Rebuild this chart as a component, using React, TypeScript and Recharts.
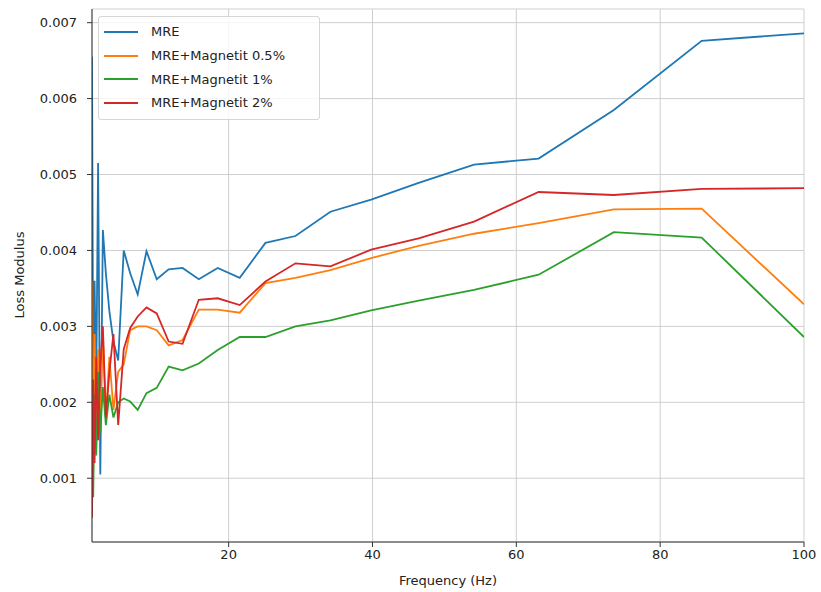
import React from 'react';
import { LineChart, Line, XAxis, YAxis, CartesianGrid, Label } from 'recharts';

// frequency sweep, 15 points per decade
const freq = [1.0, 1.166, 1.359, 1.585, 1.848, 2.154, 2.512, 2.929, 3.415, 3.981, 4.642, 5.412, 6.31, 7.356, 8.577, 10, 11.66, 13.59, 15.85, 18.48, 21.54, 25.12, 29.29, 34.15, 39.81, 46.42, 54.12, 63.1, 73.56, 85.77, 100];

const mre = [0.00655, 0.0022, 0.0036, 0.0021, 0.00515, 0.00105, 0.00427, 0.0037, 0.0032, 0.0028, 0.00255, 0.004, 0.0037, 0.00342, 0.00399, 0.00362, 0.00375, 0.00377, 0.00362, 0.00377, 0.00364, 0.0041, 0.00419, 0.00451, 0.00467, 0.00489, 0.00513, 0.00521, 0.00585, 0.00676, 0.00686];
const mre05 = [0.0036, 0.0011, 0.0029, 0.0014, 0.0027, 0.0017, 0.0029, 0.0018, 0.0026, 0.0019, 0.0024, 0.0025, 0.00295, 0.003, 0.003, 0.00295, 0.00275, 0.00282, 0.00322, 0.00322, 0.00318, 0.00357, 0.00364, 0.00374, 0.0039, 0.00406, 0.00422, 0.00436, 0.00454, 0.00455, 0.00329];
const mre1 = [0.0012, 0.00075, 0.0021, 0.0013, 0.0024, 0.0016, 0.0022, 0.0017, 0.0021, 0.0018, 0.002, 0.00205, 0.00201, 0.0019, 0.00212, 0.00219, 0.00247, 0.00242, 0.00251, 0.00269, 0.00286, 0.00286, 0.003, 0.00308, 0.00321, 0.00334, 0.00348, 0.00368, 0.00424, 0.00417, 0.00286];
const mre2 = [0.00048, 0.0023, 0.0012, 0.0026, 0.0015, 0.0025, 0.003, 0.0018, 0.0024, 0.0029, 0.0017, 0.0027, 0.00298, 0.00313, 0.00325, 0.00317, 0.0028, 0.00277, 0.00335, 0.00337, 0.00328, 0.00359, 0.00383, 0.00379, 0.00401, 0.00416, 0.00438, 0.00477, 0.00473, 0.00481, 0.00482];

const seriesNames = ['MRE', 'MRE+Magnetit 0.5%', 'MRE+Magnetit 1%', 'MRE+Magnetit 2%'];
const seriesColors = ['#1f77b4', '#ff7f0e', '#2ca02c', '#d62728'];
const seriesKeys = ['mre', 'mre05', 'mre1', 'mre2'];

const xTicks = [20, 40, 60, 80, 100];
const yTicks = [0.001, 0.002, 0.003, 0.004, 0.005, 0.006, 0.007];

const chartData = freq.map((f, i) => ({
  f,
  mre: mre[i],
  mre05: mre05[i],
  mre1: mre1[i],
  mre2: mre2[i],
}));

const FONT = '"DejaVu Sans", sans-serif';

const App = () => {
  return (
    <div style={{ position: 'absolute', left: 0, top: 0, width: 821, height: 592, fontFamily: FONT }}>
      <LineChart
        width={821}
        height={590}
        data={chartData}
        margin={{ top: 9, right: 17, left: 0, bottom: 0 }}
      >
        <CartesianGrid stroke="#cfcfcf" strokeWidth={1} />
        <XAxis
          dataKey="f"
          type="number"
          domain={[1, 100]}
          ticks={xTicks}
          allowDataOverflow
          height={48}
          tickSize={5}
          tickMargin={3}
          stroke="#333"
          tick={{ fontSize: 13, fill: '#222', fontFamily: FONT }}
        >
          <Label
            content={() => (
              <text x={448} y={585} textAnchor="middle" fontSize={13} fill="#222" fontFamily={FONT}>
                Frequency (Hz)
              </text>
            )}
          />
        </XAxis>
        <XAxis xAxisId="top" orientation="top" type="number" domain={[1, 100]} height={0} tick={false} tickLine={false} stroke="#333" />
        <YAxis
          type="number"
          domain={[0.00016, 0.00718]}
          ticks={yTicks}
          allowDataOverflow
          width={92}
          tickSize={5}
          tickMargin={10}
          stroke="#333"
          tickFormatter={(v: number) => v.toFixed(3)}
          tick={{ fontSize: 13, fill: '#222', fontFamily: FONT }}
        >
          <Label
            content={() => (
              <text x={20} y={275} transform="rotate(-90 20 275)" textAnchor="middle" dominantBaseline="middle" fontSize={13} fill="#222" fontFamily={FONT}>
                Loss Modulus
              </text>
            )}
          />
        </YAxis>
        <YAxis yAxisId="right" orientation="right" type="number" domain={[0.00016, 0.00718]} width={0} tick={false} tickLine={false} stroke="#333" />
        {seriesKeys.map((k, i) => (
          <Line
            key={k}
            dataKey={k}
            name={seriesNames[i]}
            stroke={seriesColors[i]}
            strokeWidth={1.8}
            dot={false}
            type="linear"
            isAnimationActive={false}
          />
        ))}
      </LineChart>
      <div
        style={{
          position: 'absolute',
          left: 98,
          top: 16,
          width: 222,
          padding: '3px 0 4px 0',
          border: '1px solid #d6d6d6',
          borderRadius: 3,
          background: 'rgba(255,255,255,0.8)',
          boxSizing: 'border-box',
        }}
      >
        {seriesNames.map((n, i) => (
          <div key={n} style={{ display: 'flex', alignItems: 'center', height: 23.7 }}>
            <div style={{ marginLeft: 5, width: 34, height: 2, background: seriesColors[i] }} />
            <span style={{ marginLeft: 13, fontSize: 13, color: '#222', whiteSpace: 'nowrap' }}>{n}</span>
          </div>
        ))}
      </div>
    </div>
  );
};

export default App;
